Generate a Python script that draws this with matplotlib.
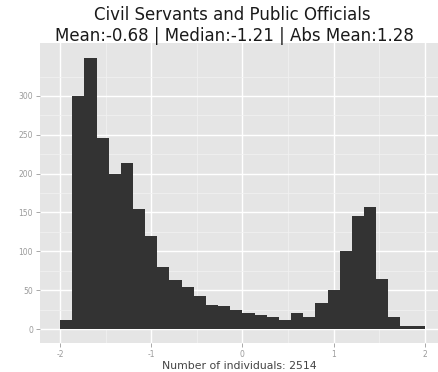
import numpy as np
import matplotlib
matplotlib.use("Agg")
import matplotlib.pyplot as plt

# Data (histogram counts), 30 bins from -2 to 2
bin_start = -2.0
bin_end = 2.0
counts = [12, 300, 349, 246, 200, 214, 155, 120, 80, 63,
          54, 42, 31, 29, 25, 21, 18, 16, 11, 21,
          15, 34, 50, 101, 146, 157, 64, 15, 4, 4]
x_ticks = [-2, -1, 0, 1, 2]
y_ticks = [0, 50, 100, 150, 200, 250, 300]
title1 = "Civil Servants and Public Officials"
title2 = "Mean:-0.68 | Median:-1.21 | Abs Mean:1.28"
xlabel = "Number of individuals: 2514"

plt.rcParams['font.family'] = ['DejaVu Sans']

W, H = 438, 372
fig = plt.figure(figsize=(W / 100, H / 100), dpi=100)
fig.patch.set_facecolor('white')

ax = fig.add_axes([40 / W, 1 - 343 / H, 1 - 40 / W, (343 - 43) / H])
ax.set_facecolor('#E5E5E5')

edges = np.linspace(bin_start, bin_end, len(counts) + 1)
ax.bar(edges[:-1], counts, width=np.diff(edges), align='edge',
       color='#333333', edgecolor='none', zorder=3)

ax.set_xlim(-2.22, 2.145)
ax.set_ylim(-18.0, 368.2)

ax.set_xticks(x_ticks)
ax.set_xticklabels([str(t) for t in x_ticks])
ax.set_yticks(y_ticks)
ax.set_yticklabels([str(t) for t in y_ticks])
ax.set_xticks([-1.5, -0.5, 0.5, 1.5], minor=True)
ax.set_yticks([25, 75, 125, 175, 225, 275, 325], minor=True)

ax.grid(True, which='major', color='white', linewidth=1.0, zorder=0)
ax.grid(True, which='minor', color='#F2F2F2', linewidth=0.5, zorder=0)
ax.set_axisbelow(True)

for s in ax.spines.values():
    s.set_visible(False)

ax.tick_params(axis='both', which='major', length=3, width=0.6,
               color='#9a9a9a', labelcolor='#9a9a9a', labelsize=5.5, pad=2)
ax.tick_params(axis='both', which='minor', length=0)

ax.set_xlabel(xlabel, fontsize=7.8, color='#444444', labelpad=1.5)

fig.text(232 / W, 1 - 15 / H, title1, ha='center', va='center',
         fontsize=12.0, color='#1a1a1a')
fig.text(234 / W, 1 - 36 / H, title2, ha='center', va='center',
         fontsize=12.0, color='#1a1a1a')

fig.savefig('out.png', dpi=100)
